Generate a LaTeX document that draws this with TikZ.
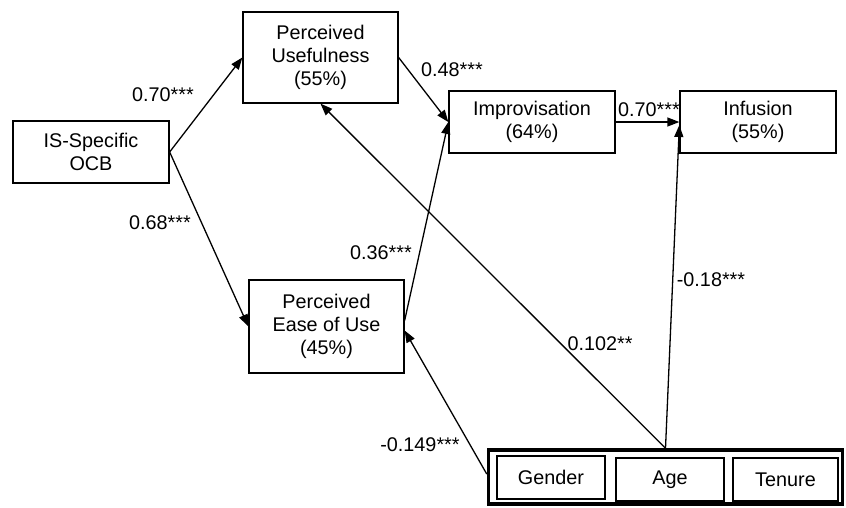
\documentclass[tikz,border=0pt]{standalone}
\usepackage{fontspec}
\setmainfont{Liberation Sans}
\usetikzlibrary{arrows.meta}
\begin{document}
\begin{tikzpicture}[x=1pt,y=-1pt,
  txt/.style={font=\fontsize{19.8}{23}\selectfont},
  box/.style={txt, draw, line width=1.3pt, align=center, inner sep=0pt},
  lbl/.style={txt, inner sep=0pt},
  arr/.style={-{Triangle[length=12pt,width=9pt]}, line width=1.3pt}
]
\useasboundingbox (0,0) rectangle (846,507);
% main nodes
\node[box, minimum width=156pt, minimum height=62pt] (ocb) at (91,152) {IS-Specific\\OCB};
\node[box, minimum width=155pt, minimum height=91pt] (pu) at (320.5,57.5) {Perceived\\Usefulness\\(55\%)};
\node[box, minimum width=166pt, minimum height=62pt] (imp) at (532,122) {Improvisation\\(64\%)};
\node[box, minimum width=156pt, minimum height=62pt] (inf) at (758,122) {Infusion\\(55\%)};
\node[box, minimum width=155pt, minimum height=93pt] (peou) at (326.5,326.5) {Perceived\\Ease of Use\\(45\%)};
% controls
\node[draw, line width=3.5pt, minimum width=354pt, minimum height=54pt, inner sep=0pt] (ctrl) at (665.5,477) {};
\node[box, minimum width=108pt, minimum height=43pt] (gender) at (551,477.5) {Gender};
\node[box, minimum width=108pt, minimum height=43pt] (age) at (670,479.5) {Age};
\node[box, minimum width=105pt, minimum height=43pt] (tenure) at (785.5,479.5) {Tenure};
% connectors
\draw[arr] (ocb.east) -- (pu.west);
\draw[arr] (ocb.east) -- (peou.west);
\draw[arr] (pu.east) -- (imp.west);
\draw[arr] ([yshift=6pt]peou.east) -- (imp.west);
\draw[arr] (imp.east) -- (inf.west);
\draw[arr] (ctrl.north) -- (pu.south);
\draw[arr] (ctrl.north) -- ([yshift=-3pt]inf.west);
\draw[arr] ([yshift=3pt]ctrl.west) -- ([yshift=-4pt]peou.east);
% labels
\node[lbl] (l1) at (163,95) {0.70***};
\node[lbl] (l2) at (160,223) {0.68***};
\node[lbl] (l3) at (452,70) {0.48***};
\node[lbl] (l4) at (381,253) {0.36***};
\node[lbl] (l5) at (649,110) {0.70***};
\node[lbl] (l6) at (711,280) {-0.18***};
\node[lbl] (l7) at (600,344) {0.102**};
\node[lbl] (l8) at (420,445) {-0.149***};
\end{tikzpicture}
\end{document}
